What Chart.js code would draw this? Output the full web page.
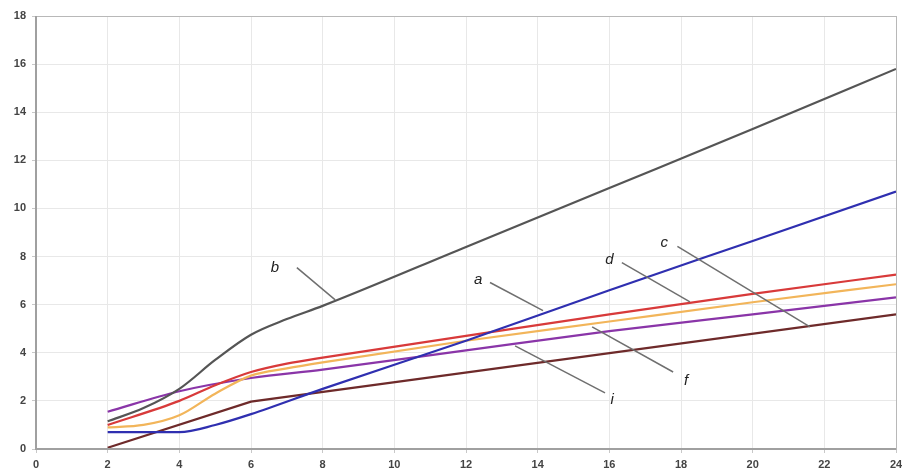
<!DOCTYPE html>
<html>
<head>
<meta charset="utf-8">
<script src="https://cdn.jsdelivr.net/npm/chart.js@4/dist/chart.umd.min.js"></script>
<style>
  html,body{margin:0;padding:0;background:#fff;}
  #wrap{width:902px;height:476px;position:relative;}
</style>
</head>
<body>
<div id="wrap"><canvas id="c" width="902" height="476"></canvas></div>
<script>
// ---- data ----
const xTicks = [0,2,4,6,8,10,12,14,16,18,20,22,24];
const yTicks = [0,2,4,6,8,10,12,14,16,18];

const seriesNames = ['b','a','d','f','i','c'];

const bX = [2,3,4,5,6,7,8,12,16,20,24];
const bY = [1.15,1.7,2.5,3.7,4.75,5.4,5.95,8.4,10.85,13.3,15.8];

const aX = [2,4,5,6,8,12,16,20,24];
const aY = [0.7,0.7,1.0,1.45,2.5,4.5,6.6,8.65,10.7];

const dX = [2,4,5,6,7,8,12,16,20,24];
const dY = [1.0,2.0,2.65,3.2,3.55,3.8,4.7,5.6,6.45,7.25];

const fX = [2,3,4,5,6,7,8,12,16,20,24];
const fY = [0.9,1.0,1.4,2.3,3.05,3.35,3.6,4.5,5.3,6.1,6.85];

const iX = [2,4,6,8,12,16,20,24];
const iY = [1.55,2.4,2.95,3.3,4.1,4.9,5.6,6.3];

const cX = [2,6,24];
const cY = [0.05,1.97,5.6];

// label annotations: [text, textX, textY, lineFromX, lineFromY, lineToX, lineToY] in data units
const labelNotes = [
  ['b', 6.67, 7.54, 7.28, 7.54, 8.35, 6.2],
  ['a', 12.34, 7.04, 12.67, 6.92, 14.15, 5.75],
  ['d', 16.0, 7.87, 16.35, 7.75, 18.25, 6.12],
  ['c', 17.53, 8.58, 17.9, 8.42, 21.6, 5.08],
  ['f', 18.14, 2.83, 17.78, 3.2, 15.52, 5.08],
  ['i', 16.08, 2.04, 15.88, 2.33, 13.37, 4.29]
];

const colors = {b:'#555555', a:'#2f2fb0', d:'#d83a3a', f:'#f2b55a', i:'#8a35a8', c:'#6e2a2a'};

function pts(xs, ys){ return xs.map((x,k)=>({x:x, y:ys[k]})); }
const seriesData = {b:pts(bX,bY), a:pts(aX,aY), d:pts(dX,dY), f:pts(fX,fY), i:pts(iX,iY), c:pts(cX,cY)};

const datasets = seriesNames.map(n => ({
  label: n,
  data: seriesData[n],
  borderColor: colors[n],
  borderWidth: 2.2,
  pointRadius: 0,
  fill: false,
  cubicInterpolationMode: n === 'c' ? 'default' : 'monotone',
  tension: 0
}));

const notesPlugin = {
  id: 'notes',
  afterDatasetsDraw(chart){
    const ctx = chart.ctx, xs = chart.scales.x, ys = chart.scales.y;
    ctx.save();
    labelNotes.forEach(n => {
      ctx.strokeStyle = '#6f6f6f';
      ctx.lineWidth = 1.5;
      ctx.beginPath();
      ctx.moveTo(xs.getPixelForValue(n[3]), ys.getPixelForValue(n[4]));
      ctx.lineTo(xs.getPixelForValue(n[5]), ys.getPixelForValue(n[6]));
      ctx.stroke();
      ctx.fillStyle = '#222';
      ctx.font = 'italic 15px "Liberation Sans", Arial, sans-serif';
      ctx.textAlign = 'center';
      ctx.textBaseline = 'middle';
      ctx.fillText(n[0], xs.getPixelForValue(n[1]), ys.getPixelForValue(n[2]));
    });
    ctx.restore();
  },
  afterDraw(chart){
    const a = chart.chartArea, ctx = chart.ctx;
    ctx.save();
    ctx.strokeStyle = '#b8b8b8';
    ctx.lineWidth = 1;
    ctx.strokeRect(a.left+0.5, a.top+0.5, a.right-a.left, a.bottom-a.top);
    ctx.strokeStyle = '#a0a0a0';
    ctx.lineWidth = 2;
    ctx.beginPath();
    ctx.moveTo(a.left, a.top); ctx.lineTo(a.left, a.bottom); ctx.lineTo(a.right, a.bottom);
    ctx.stroke();
    ctx.restore();
  }
};

new Chart(document.getElementById('c'), {
  type: 'line',
  data: { datasets },
  options: {
    responsive: false,
    animation: false,
    layout: { padding: { top: 16, right: 6, left: 0, bottom: 0 } },
    plugins: { legend: { display: false }, tooltip: { enabled: false } },
    scales: {
      x: {
        type: 'linear', min: 0, max: 24,
        afterBuildTicks: s => { s.ticks = xTicks.map(v => ({value: v})); },
        afterFit: s => { s.height = 27; s.paddingLeft = 0; s.paddingRight = 0; },
        grid: { color: '#e8e8e8', lineWidth: 1, tickLength: 4, tickColor: '#c8c8c8' },
        border: { display: false },
        ticks: { color: '#444', font: { size: 11, family: 'Arial, "Liberation Sans", sans-serif', weight: 'bold' }, padding: 5, maxRotation: 0 }
      },
      y: {
        type: 'linear', min: 0, max: 18,
        afterBuildTicks: s => { s.ticks = yTicks.map(v => ({value: v})); },
        afterFit: s => { s.width = 36; s.paddingTop = 0; s.paddingBottom = 0; },
        grid: { color: '#e8e8e8', lineWidth: 1, tickLength: 4, tickColor: '#c8c8c8' },
        border: { display: false },
        ticks: { color: '#444', font: { size: 11, family: 'Arial, "Liberation Sans", sans-serif', weight: 'bold' }, padding: 6 }
      }
    }
  },
  plugins: [notesPlugin]
});
</script>
</body>
</html>
